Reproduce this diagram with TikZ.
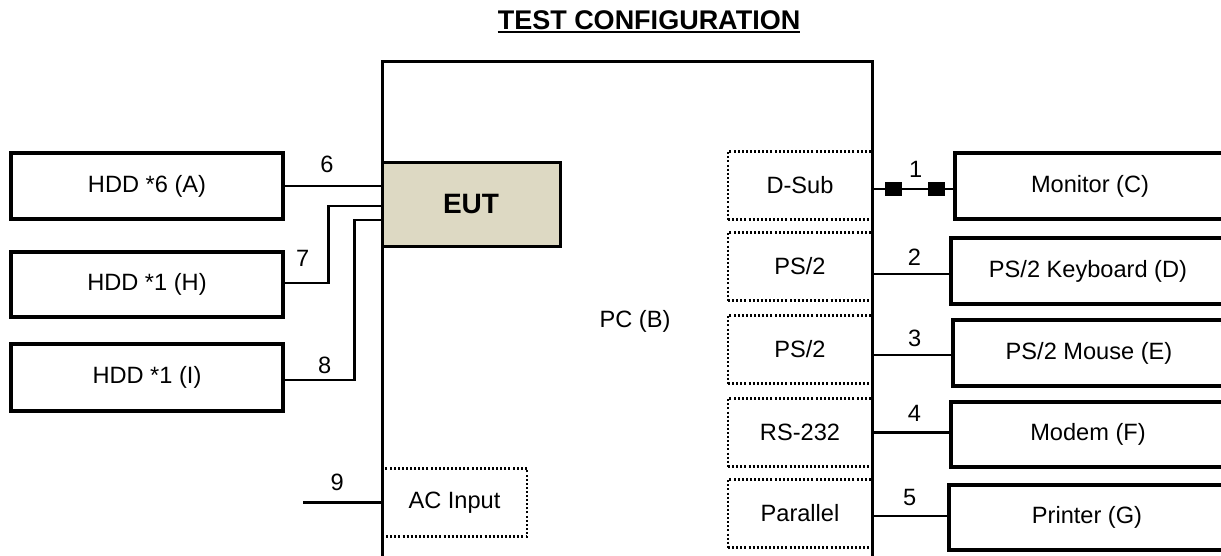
\documentclass[tikz,border=0pt]{standalone}
\usepackage{fontspec}
\setmainfont{Liberation Sans}
\definecolor{eutfill}{RGB}{221,217,195}
\begin{document}
\begin{tikzpicture}[x=1pt,y=-1pt,
  every node/.style={font=\fontsize{23.6}{28}\selectfont, inner sep=0pt},
  devbox/.style={draw, line width=3.3pt, rectangle},
  portbox/.style={draw, line width=2.6pt, dash pattern=on 2pt off 2.1pt, minimum width=144pt, minimum height=68pt},
  pcbox/.style={draw, line width=3pt},
  eutbox/.style={draw, line width=3pt, fill=eutfill, font=\bfseries\fontsize{28}{32}\selectfont},
  cable/.style={line width=2.8pt},
  plug/.style={fill=black, minimum width=17pt, minimum height=14pt}]

\useasboundingbox (0,0) rectangle (1221,555);
\clip (0,0) rectangle (1221,555);

% title
\node[font=\bfseries\fontsize{27}{30}\selectfont] (title) at (649,20) {TEST CONFIGURATION};
\draw[line width=2.5pt] ([yshift=-2.6pt]title.base west) -- ([yshift=-2.6pt]title.base east);

% port boxes
\node[portbox] (dsub) at (800,185.5) {D-Sub};
\node[portbox] (ps2a) at (800,266.5) {PS/2};
\node[portbox] (ps2b) at (800,349.5) {PS/2};
\node[portbox] (rs232) at (800,432.5) {RS-232};
\node[portbox] (par) at (800,513.5) {Parallel};
\node[portbox, minimum width=145pt] (ac) at (454.5,502.5) {AC Input};

% PC
\node[pcbox, minimum width=490pt, minimum height=540pt] (pc) at (627,331) {};
\node (pclabel) at (635,321) {PC (B)};

% EUT
\node[eutbox, minimum width=178pt, minimum height=84pt] (eut) at (471,204) {EUT};

% devices
\node[devbox, minimum width=272pt, minimum height=66pt] (hddA) at (147,186) {HDD *6 (A)};
\node[devbox, minimum width=272pt, minimum height=65pt] (hddH) at (147,284.5) {HDD *1 (H)};
\node[devbox, minimum width=272pt, minimum height=67pt] (hddI) at (147,377.5) {HDD *1 (I)};
\node[devbox, minimum width=270pt, minimum height=66pt] (mon) at (1090,186) {Monitor (C)};
\node[devbox, minimum width=274pt, minimum height=66pt] (kbd) at (1088,271) {PS/2 Keyboard (D)};
\node[devbox, minimum width=272pt, minimum height=66pt] (mouse) at (1089,353) {PS/2 Mouse (E)};
\node[devbox, minimum width=274pt, minimum height=65pt] (modem) at (1088,434.5) {Modem (F)};
\node[devbox, minimum width=276pt, minimum height=65pt] (printer) at (1087,517.5) {Printer (G)};

% right connectors
\coordinate (c1) at ([yshift=-3.5pt]dsub.east);
\draw[cable] (c1) -- (c1 -| mon.west)
  node[pos=.247, plug] (sq1) {}
  node[pos=.789, plug] (sq2) {}
  node[pos=.53, above=10pt] (n1) {1};
\coordinate (c2) at ([yshift=-7.5pt]ps2a.east);
\draw[cable] (c2) -- (c2 -| kbd.west) node[pos=.54, above=7pt] (n2) {2};
\coordinate (c3) at ([yshift=-5.5pt]ps2b.east);
\draw[cable] (c3) -- (c3 -| mouse.west) node[pos=.53, above=7pt] (n3) {3};
\coordinate (c4) at (rs232.east);
\draw[cable] (c4) -- (c4 -| modem.west) node[pos=.54, above=10pt] (n4) {4};
\coordinate (c5) at ([yshift=-2.5pt]par.east);
\draw[cable] (c5) -- (c5 -| printer.west) node[pos=.49, above=9pt] (n5) {5};

% left connectors
\draw[cable] (hddA.east) -- (hddA.east -| eut.west) node[pos=.44, above=12pt] (n6) {6};
\coordinate (e7) at ([yshift=-2pt]eut.west);
\draw[cable] ([yshift=1.5pt]hddH.east) -- ++(44,0) |- (e7);
\node (n7) at ([xshift=18pt, yshift=26pt]hddH.east) {7};
\coordinate (e8) at ([yshift=-16pt]eut.west);
\draw[cable] ([yshift=-2.5pt]hddI.east) -- ++(70,0) |- (e8);
\node (n8) at ([xshift=40pt, yshift=12.5pt]hddI.east) {8};
\coordinate (p9) at (303,502.5);
\draw[cable] (p9) -- (ac.west) node[pos=.44, above=10pt] (n9) {9};

\end{tikzpicture}
\end{document}
